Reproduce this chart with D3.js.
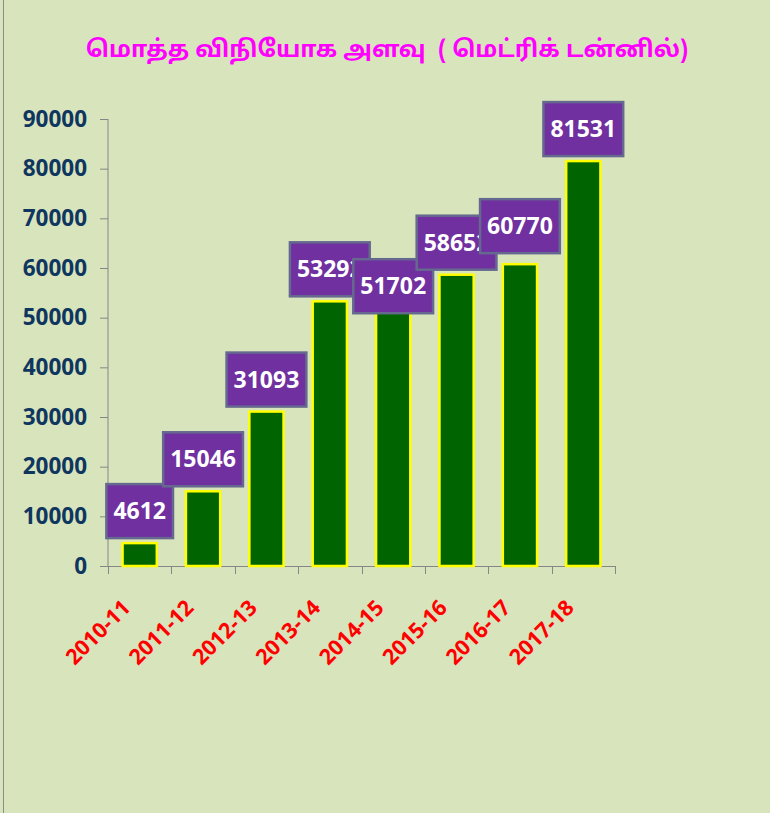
<!DOCTYPE html>
<html>
<head>
<meta charset="utf-8">
<script src="https://cdn.jsdelivr.net/npm/d3@7"></script>
<style>
  body { margin: 0; background: #d8e4bc; }
  svg { display: block; }
</style>
</head>
<body>
<div id="chart"></div>
<script>
// dati
const categories = ["2010-11", "2011-12", "2012-13", "2013-14", "2014-15", "2015-16", "2016-17", "2017-18"];
const values = [4612, 15046, 31093, 53292, 51702, 58652, 60770, 81531];
const yTicks = [0, 10000, 20000, 30000, 40000, 50000, 60000, 70000, 80000, 90000];
const title = "மொத்த விநியோக அளவு  ( மெட்ரிக் டன்னில்)";

const width = 770;
const height = 813;

const svg = d3.select("#chart").append("svg")
  .attr("width", width)
  .attr("height", height);

// sfondo e bordo sinistro
svg.append("rect")
  .attr("x", 3.5).attr("y", -5)
  .attr("width", width + 10).attr("height", height + 10)
  .attr("fill", "#d8e4bc")
  .attr("stroke", "#8c8c8c")
  .attr("stroke-width", 1);

// titolo
svg.append("text")
  .attr("x", 387).attr("y", 57)
  .attr("text-anchor", "middle")
  .attr("fill", "#ff00ff")
  .attr("font-family", "'Noto Sans Tamil', 'Lohit Tamil', 'Noto Sans', sans-serif")
  .attr("font-size", 23.5)
  .attr("font-weight", "bold")
  .style("white-space", "pre")
  .text(title);

// scale
const x = d3.scaleBand()
  .domain(categories)
  .range([108, 615])
  .paddingInner(0.46)
  .paddingOuter(0.23);

const y = d3.scaleLinear()
  .domain([0, 90000])
  .range([566, 119]);

// asse y
const yAxis = svg.append("g")
  .attr("transform", "translate(108,0)")
  .call(d3.axisLeft(y).tickValues(yTicks).tickSize(8).tickPadding(13).tickFormat(d3.format("d")));
yAxis.select(".domain").attr("stroke", "#868686").attr("d", "M0,119V566");
yAxis.selectAll(".tick line").attr("stroke", "#868686");
yAxis.selectAll(".tick text")
  .attr("fill", "#0f365f")
  .attr("font-family", "'Open Sans', sans-serif")
  .attr("font-weight", "bold")
  .attr("font-size", 22.5);

// asse x: tacche ai bordi delle categorie
const step = x.step();
const xAxis = svg.append("g");
xAxis.append("line")
  .attr("x1", 108).attr("x2", 615)
  .attr("y1", 566.5).attr("y2", 566.5)
  .attr("stroke", "#868686");
xAxis.selectAll("line.tick")
  .data(d3.range(categories.length + 1))
  .join("line")
  .attr("class", "tick")
  .attr("x1", (i) => Math.round(108 + i * step) + 0.5)
  .attr("x2", (i) => Math.round(108 + i * step) + 0.5)
  .attr("y1", 566).attr("y2", 574)
  .attr("stroke", "#868686");

xAxis.selectAll("text")
  .data(categories)
  .join("text")
  .attr("transform", (d) => `translate(${x(d) + x.bandwidth() / 2 - 8},${609}) rotate(-45)`)
  .attr("text-anchor", "end")
  .attr("fill", "#ff0000")
  .attr("font-family", "'Open Sans', sans-serif")
  .attr("font-weight", "bold")
  .attr("font-size", 21.5)
  .text((d) => d);

// barre
svg.selectAll("rect.bar")
  .data(values)
  .join("rect")
  .attr("class", "bar")
  .attr("x", (d, i) => x(categories[i]))
  .attr("y", (d) => y(d))
  .attr("width", x.bandwidth())
  .attr("height", (d) => y(0) - y(d))
  .attr("fill", "#006400")
  .attr("stroke", "#ffff00")
  .attr("stroke-width", 2.5);

// etichette con box viola (spostamenti manuali come nell'originale)
const labelNudge = [0, 0, 0, 0, 9, 0, -6, 0];
const labels = svg.selectAll("g.label")
  .data(values)
  .join("g")
  .attr("class", "label");

labels.each(function (d, i) {
  const g = d3.select(this);
  const cx = x(categories[i]) + x.bandwidth() / 2;
  const bottom = y(d) - 5 + labelNudge[i];
  const boxH = 54;
  const t = g.append("text")
    .attr("x", cx)
    .attr("y", bottom - boxH / 2 + 8)
    .attr("text-anchor", "middle")
    .attr("fill", "#ffffff")
    .attr("font-family", "'Open Sans', sans-serif")
    .attr("font-weight", "bold")
    .attr("font-size", 23)
    .text(d);
  const w = t.node().getComputedTextLength() + 14;
  g.insert("rect", "text")
    .attr("x", cx - w / 2)
    .attr("y", bottom - boxH)
    .attr("width", w)
    .attr("height", boxH)
    .attr("fill", "#7030a0")
    .attr("stroke", "#65698f")
    .attr("stroke-width", 2.5);
});
</script>
</body>
</html>
